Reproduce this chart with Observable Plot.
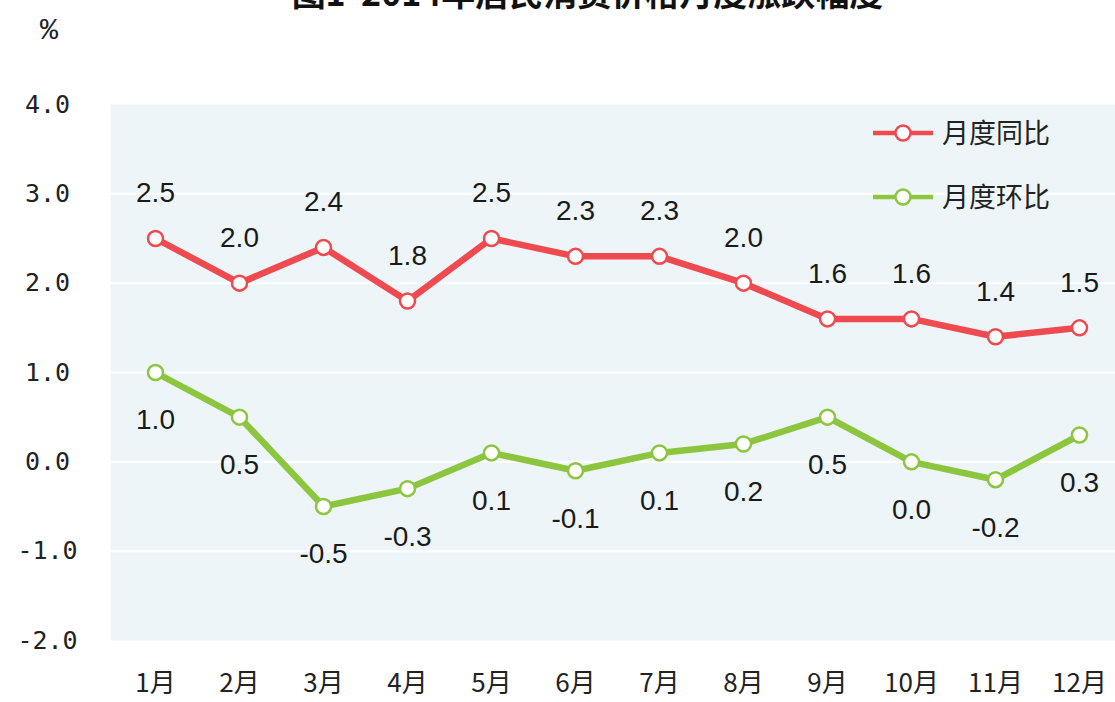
<!DOCTYPE html>
<html>
<head>
<meta charset="utf-8">
<script src="https://cdn.jsdelivr.net/npm/d3@7"></script>
<script src="https://cdn.jsdelivr.net/npm/@observablehq/plot@0.6"></script>
<style>
  html, body { margin: 0; padding: 0; background: #fff; overflow: hidden; }
  #wrap { position: relative; width: 1115px; height: 702px; overflow: hidden; }
  #title { position: absolute; left: 0; width: 1175px; top: -25px; text-align: center;
           font: bold 34px "Noto Sans CJK SC", sans-serif; line-height: 1; color: #111; white-space: pre; }
  #unit { position: absolute; left: 40px; top: 16px; font-family: "Liberation Mono", monospace; font-size: 30px; color: #222; line-height: 1; }
  #legend { position: absolute; left: 0; top: 0; pointer-events: none; }
  #chart { position: absolute; left: 0; top: 0; }
</style>
</head>
<body>
<div id="wrap">
  <div id="chart"></div>
  <div id="title">图1  2014年居民消费价格月度涨跌幅度</div>
  <div id="unit">%</div>
  <svg id="legend" width="1115" height="702"></svg>
</div>
<script>
const months = ["1月","2月","3月","4月","5月","6月","7月","8月","9月","10月","11月","12月"];
const yoy = [2.5, 2.0, 2.4, 1.8, 2.5, 2.3, 2.3, 2.0, 1.6, 1.6, 1.4, 1.5];
const mom = [1.0, 0.5, -0.5, -0.3, 0.1, -0.1, 0.1, 0.2, 0.5, 0.0, -0.2, 0.3];
const seriesNames = ["月度同比", "月度环比"];
const seriesColors = ["#EF4A4F", "#8CC63F"];
const yTicks = [-2, -1, 0, 1, 2, 3, 4];

const rowsYoy = months.map((m, i) => ({month: m, value: yoy[i], series: seriesNames[0]}));
const rowsMom = months.map((m, i) => ({month: m, value: mom[i], series: seriesNames[1]}));
const data = rowsYoy.concat(rowsMom);

const chart = Plot.plot({
  width: 1115,
  height: 702,
  marginTop: 104,
  marginBottom: 62,
  marginLeft: 110,
  marginRight: 0,
  style: {background: "transparent", fontFamily: "Liberation Sans, Arial, sans-serif"},
  x: {type: "point", domain: months, range: [150, 1084], padding: 0, label: null},
  y: {domain: [-2, 4], label: null},
  color: {domain: seriesNames, range: seriesColors},
  marks: [
    Plot.frame({fill: "#EEF5F9", stroke: null}),
    Plot.gridY(yTicks.slice(1, -1), {stroke: "#ffffff", strokeOpacity: 1, strokeWidth: 2}),
    Plot.line(data, {x: "month", y: "value", z: "series", stroke: "series", strokeWidth: 6.5, strokeLinejoin: "round"}),
    Plot.dot(data, {x: "month", y: "value", stroke: "series", fill: "white", r: 7.5, strokeWidth: 2.5}),
    Plot.text(rowsYoy, {x: "month", y: "value", text: d => d.value.toFixed(1), dy: -45, fontSize: 28, fill: "#1a1a1a"}),
    Plot.text(rowsMom, {x: "month", y: "value", text: d => d.value.toFixed(1), dy: 48, fontSize: 28, fill: "#1a1a1a"}),
    Plot.axisY(yTicks, {tickSize: 0, tickPadding: 63, textAnchor: "middle", tickFormat: d => d.toFixed(1), label: null,
      fontSize: 25, fontFamily: "DejaVu Sans Mono, monospace", fill: "#222"}),
    Plot.axisX({tickSize: 0, tickPadding: 33, fontSize: 26, label: null, fontFamily: "Noto Sans CJK SC, sans-serif", fill: "#222"})
  ]
});
document.getElementById("chart").appendChild(chart);

// legend inside plot area (top right)
const leg = d3.select("#legend");
const legendRows = [133, 197];
seriesNames.forEach((name, i) => {
  const g = leg.append("g").attr("transform", `translate(0,${legendRows[i]})`);
  g.append("line").attr("x1", 873).attr("x2", 933).attr("y1", 0).attr("y2", 0)
    .attr("stroke", seriesColors[i]).attr("stroke-width", 4.5);
  g.append("circle").attr("cx", 903).attr("cy", 0).attr("r", 7.5)
    .attr("fill", "white").attr("stroke", seriesColors[i]).attr("stroke-width", 2.5);
  g.append("text").attr("x", 942).attr("y", 0).attr("dy", "0.36em")
    .attr("font-family", "Noto Sans CJK SC, sans-serif").attr("font-size", 27).attr("fill", "#222")
    .text(name);
});
</script>
</body>
</html>
